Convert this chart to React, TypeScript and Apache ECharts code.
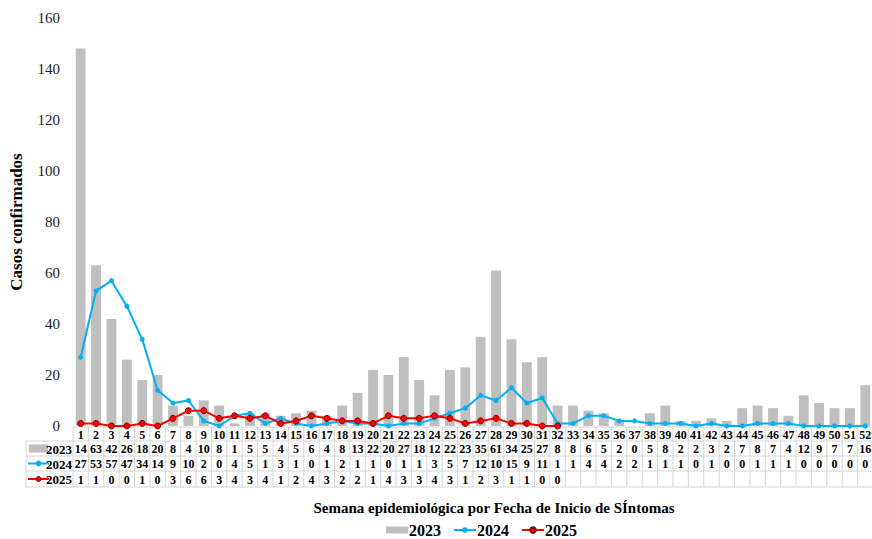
import React, { useEffect, useRef } from "react";
import * as echarts from "echarts";

const weeks: string[] = Array.from({ length: 52 }, (_, i) => String(i + 1));
const cases2023: number[] = [148, 63, 42, 26, 18, 20, 8, 4, 10, 8, 1, 5, 5, 4, 5, 6, 4, 8, 13, 22, 20, 27, 18, 12, 22, 23, 35, 61, 34, 25, 27, 8, 8, 6, 5, 2, 0, 5, 8, 2, 2, 3, 2, 7, 8, 7, 4, 12, 9, 7, 7, 16];
const cases2024: number[] = [27, 53, 57, 47, 34, 14, 9, 10, 2, 0, 4, 5, 1, 3, 1, 0, 1, 2, 1, 1, 0, 1, 1, 3, 5, 7, 12, 10, 15, 9, 11, 1, 1, 4, 4, 2, 2, 1, 1, 1, 0, 1, 0, 0, 1, 1, 1, 0, 0, 0, 0, 0];
const cases2025: number[] = [1, 1, 0, 0, 1, 0, 3, 6, 6, 3, 4, 3, 4, 1, 2, 4, 3, 2, 2, 1, 4, 3, 3, 4, 3, 1, 2, 3, 1, 1, 0, 0];
const yTicks = { min: 0, max: 160, interval: 20 };
const seriesNames = ["2023", "2024", "2025"];

const FONT = "'Liberation Serif', 'Times New Roman', serif";
const C23 = "#BFBFBF";
const C24 = "#00B0F0";
const C25 = "#FF0000";
const C25B = "#7F0000";
const BORDER = "#D6D6D6";

export default function App() {
  const ref = useRef<HTMLDivElement>(null);
  useEffect(() => {
    if (!ref.current) return;
    const chart = echarts.init(ref.current, null, { renderer: "svg" });
    chart.setOption({
      animation: false,
      grid: { left: 73, width: 800, top: 18, bottom: 113, containLabel: false, outerBoundsMode: "none" },
      xAxis: {
        type: "category",
        data: weeks,
        axisLine: { show: false },
        axisTick: { show: false },
        axisLabel: { show: false },
      },
      yAxis: {
        type: "value",
        min: yTicks.min,
        max: yTicks.max,
        interval: yTicks.interval,
        splitLine: { show: false },
        axisLine: { show: false },
        axisTick: { show: false },
        axisLabel: { margin: 13, fontFamily: FONT, fontSize: 15, color: "#222" },
        name: "Casos confirmados",
        nameLocation: "middle",
        nameGap: 48,
        nameRotate: 90,
        nameTextStyle: { fontFamily: FONT, fontSize: 17, fontWeight: "bold", color: "#000" },
      },
      legend: {
        left: 386,
        top: 522,
        padding: 0,
        itemWidth: 22,
        itemHeight: 7,
        itemGap: 12,
        textStyle: { fontFamily: FONT, fontSize: 16, fontWeight: "bold", color: "#000", padding: [0, 0, 0, -4] },
        data: [
          { name: seriesNames[0], icon: "rect", itemStyle: { color: C23 } },
          { name: seriesNames[1] },
          { name: seriesNames[2] },
        ],
      },
      series: [
        {
          name: seriesNames[0],
          type: "bar",
          data: cases2023,
          barWidth: "64%",
          itemStyle: { color: C23 },
        },
        {
          name: seriesNames[1],
          type: "line",
          data: cases2024,
          symbol: "circle",
          symbolSize: 5,
          lineStyle: { color: C24, width: 2 },
          itemStyle: { color: C24 },
          z: 3,
        },
        {
          name: seriesNames[2],
          type: "line",
          data: cases2025,
          symbol: "circle",
          symbolSize: 6,
          lineStyle: { color: C25, width: 2 },
          itemStyle: { color: C25, borderColor: C25B, borderWidth: 1 },
          z: 4,
        },
      ],
    });

    // Build the data table below the plot from the arrays
    const y0 = chart.convertToPixel({ yAxisIndex: 0 }, 0) as number;
    const xs = weeks.map((w) => chart.convertToPixel({ xAxisIndex: 0 }, w) as number);
    const band = xs.length > 1 ? xs[1] - xs[0] : 15;
    const left = xs[0] - band / 2;
    const right = xs[xs.length - 1] + band / 2;
    const rowTop = y0 + 1;
    const rowH = [14, 15, 15, 16];
    const rowY: number[] = [rowTop];
    rowH.forEach((h, i) => rowY.push(rowY[i] + h));
    const labelLeft = 26;
    const els: any[] = [];
    const line = (x1: number, y1: number, x2: number, y2: number) =>
      els.push({ type: "line", shape: { x1, y1, x2, y2 }, style: { stroke: BORDER, lineWidth: 1 }, silent: true });
    line(left, rowY[0], right, rowY[0]);
    for (let r = 1; r < rowY.length; r++) line(labelLeft, rowY[r], right, rowY[r]);
    line(labelLeft, rowY[1], labelLeft, rowY[4]);
    for (let i = 0; i <= xs.length; i++) {
      const x = left + i * band;
      line(x, rowY[0], x, rowY[4]);
    }
    const rows: (number[] | string[])[] = [weeks, cases2023, cases2024, cases2025];
    rows.forEach((vals, r) => {
      const cy = (rowY[r] + rowY[r + 1]) / 2 + 0.5;
      (vals as any[]).forEach((v, i) => {
        els.push({
          type: "text",
          x: xs[i],
          y: cy,
          style: {
            text: String(v),
            fontFamily: FONT,
            fontSize: 12,
            fontWeight: "bold",
            fill: "#000",
            align: "center",
            verticalAlign: "middle",
            width: band,
            overflow: "truncate",
            ellipsis: "",
          },
          silent: true,
        });
      });
    });
    const colors = [C23, C24, C25];
    seriesNames.forEach((n, k) => {
      const cy = (rowY[k + 1] + rowY[k + 2]) / 2;
      if (k === 0) {
        els.push({ type: "rect", shape: { x: 29, y: cy - 4, width: 19, height: 8 }, style: { fill: C23 }, silent: true });
      } else {
        els.push({ type: "line", shape: { x1: 28, y1: cy, x2: 49, y2: cy }, style: { stroke: colors[k], lineWidth: 2 }, silent: true });
        els.push({
          type: "circle",
          shape: { cx: 38.5, cy, r: 2.5 },
          style: { fill: colors[k], stroke: k === 2 ? C25B : colors[k], lineWidth: 1 },
          silent: true,
        });
      }
      els.push({
        type: "text",
        x: 72,
        y: cy + 0.5,
        style: { text: n, fontFamily: FONT, fontSize: 13, fontWeight: "bold", fill: "#000", align: "right", verticalAlign: "middle" },
        silent: true,
      });
    });
    els.push({
      type: "text",
      x: 494,
      y: 508,
      style: {
        text: "Semana epidemiológica por Fecha de Inicio de SÍntomas",
        fontFamily: FONT,
        fontSize: 15,
        fontWeight: "bold",
        fill: "#000",
        align: "center",
        verticalAlign: "middle",
      },
      silent: true,
    });
    chart.setOption({ graphic: els });
    return () => chart.dispose();
  }, []);
  return (
    <div
      ref={ref}
      style={{ position: "fixed", left: 0, top: 0, width: 872, height: 539, background: "#fff" }}
    />
  );
}
